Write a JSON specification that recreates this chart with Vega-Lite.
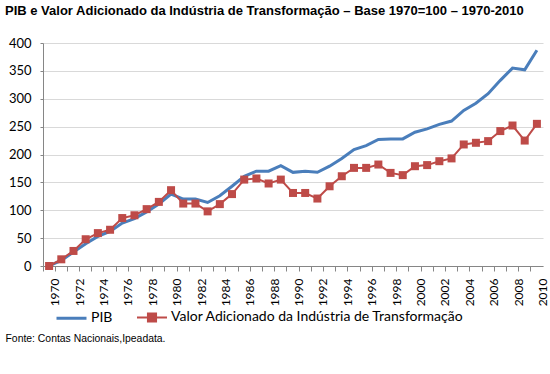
{
  "$schema": "https://vega.github.io/schema/vega-lite/v6.json",
  "width": 500,
  "height": 223,
  "autosize": "none",
  "padding": {"left": 43, "top": 43, "right": 7, "bottom": 108},
  "background": "white",
  "title": {
    "text": "PIB e Valor Adicionado da Indústria de Transformação – Base 1970=100 – 1970-2010",
    "anchor": "start",
    "frame": "group",
    "dx": -38,
    "offset": 19,
    "font": "Liberation Sans",
    "fontSize": 13,
    "fontWeight": "bold",
    "color": "#000000"
  },
  "data": {
    "values": [
      {"year": 1970, "s": "PIB", "v": 0},
      {"year": 1971, "s": "PIB", "v": 10},
      {"year": 1972, "s": "PIB", "v": 25},
      {"year": 1973, "s": "PIB", "v": 40},
      {"year": 1974, "s": "PIB", "v": 53},
      {"year": 1975, "s": "PIB", "v": 62},
      {"year": 1976, "s": "PIB", "v": 77},
      {"year": 1977, "s": "PIB", "v": 85},
      {"year": 1978, "s": "PIB", "v": 97},
      {"year": 1979, "s": "PIB", "v": 111},
      {"year": 1980, "s": "PIB", "v": 129},
      {"year": 1981, "s": "PIB", "v": 120},
      {"year": 1982, "s": "PIB", "v": 120},
      {"year": 1983, "s": "PIB", "v": 114},
      {"year": 1984, "s": "PIB", "v": 126},
      {"year": 1985, "s": "PIB", "v": 143},
      {"year": 1986, "s": "PIB", "v": 161},
      {"year": 1987, "s": "PIB", "v": 170},
      {"year": 1988, "s": "PIB", "v": 170},
      {"year": 1989, "s": "PIB", "v": 180},
      {"year": 1990, "s": "PIB", "v": 168},
      {"year": 1991, "s": "PIB", "v": 170},
      {"year": 1992, "s": "PIB", "v": 168},
      {"year": 1993, "s": "PIB", "v": 179},
      {"year": 1994, "s": "PIB", "v": 193},
      {"year": 1995, "s": "PIB", "v": 209},
      {"year": 1996, "s": "PIB", "v": 216},
      {"year": 1997, "s": "PIB", "v": 227},
      {"year": 1998, "s": "PIB", "v": 228},
      {"year": 1999, "s": "PIB", "v": 228},
      {"year": 2000, "s": "PIB", "v": 240},
      {"year": 2001, "s": "PIB", "v": 246},
      {"year": 2002, "s": "PIB", "v": 254},
      {"year": 2003, "s": "PIB", "v": 260},
      {"year": 2004, "s": "PIB", "v": 279},
      {"year": 2005, "s": "PIB", "v": 292},
      {"year": 2006, "s": "PIB", "v": 309},
      {"year": 2007, "s": "PIB", "v": 333},
      {"year": 2008, "s": "PIB", "v": 355},
      {"year": 2009, "s": "PIB", "v": 352},
      {"year": 2010, "s": "PIB", "v": 387},
      {"year": 1970, "s": "Valor Adicionado da Indústria de Transformação", "v": 0},
      {"year": 1971, "s": "Valor Adicionado da Indústria de Transformação", "v": 12},
      {"year": 1972, "s": "Valor Adicionado da Indústria de Transformação", "v": 27},
      {"year": 1973, "s": "Valor Adicionado da Indústria de Transformação", "v": 48},
      {"year": 1974, "s": "Valor Adicionado da Indústria de Transformação", "v": 59},
      {"year": 1975, "s": "Valor Adicionado da Indústria de Transformação", "v": 65},
      {"year": 1976, "s": "Valor Adicionado da Indústria de Transformação", "v": 86},
      {"year": 1977, "s": "Valor Adicionado da Indústria de Transformação", "v": 91},
      {"year": 1978, "s": "Valor Adicionado da Indústria de Transformação", "v": 102},
      {"year": 1979, "s": "Valor Adicionado da Indústria de Transformação", "v": 115},
      {"year": 1980, "s": "Valor Adicionado da Indústria de Transformação", "v": 136},
      {"year": 1981, "s": "Valor Adicionado da Indústria de Transformação", "v": 112},
      {"year": 1982, "s": "Valor Adicionado da Indústria de Transformação", "v": 112},
      {"year": 1983, "s": "Valor Adicionado da Indústria de Transformação", "v": 98},
      {"year": 1984, "s": "Valor Adicionado da Indústria de Transformação", "v": 111},
      {"year": 1985, "s": "Valor Adicionado da Indústria de Transformação", "v": 129},
      {"year": 1986, "s": "Valor Adicionado da Indústria de Transformação", "v": 155},
      {"year": 1987, "s": "Valor Adicionado da Indústria de Transformação", "v": 157},
      {"year": 1988, "s": "Valor Adicionado da Indústria de Transformação", "v": 148},
      {"year": 1989, "s": "Valor Adicionado da Indústria de Transformação", "v": 155},
      {"year": 1990, "s": "Valor Adicionado da Indústria de Transformação", "v": 131},
      {"year": 1991, "s": "Valor Adicionado da Indústria de Transformação", "v": 131},
      {"year": 1992, "s": "Valor Adicionado da Indústria de Transformação", "v": 121},
      {"year": 1993, "s": "Valor Adicionado da Indústria de Transformação", "v": 143},
      {"year": 1994, "s": "Valor Adicionado da Indústria de Transformação", "v": 161},
      {"year": 1995, "s": "Valor Adicionado da Indústria de Transformação", "v": 176},
      {"year": 1996, "s": "Valor Adicionado da Indústria de Transformação", "v": 176},
      {"year": 1997, "s": "Valor Adicionado da Indústria de Transformação", "v": 182},
      {"year": 1998, "s": "Valor Adicionado da Indústria de Transformação", "v": 167},
      {"year": 1999, "s": "Valor Adicionado da Indústria de Transformação", "v": 163},
      {"year": 2000, "s": "Valor Adicionado da Indústria de Transformação", "v": 179},
      {"year": 2001, "s": "Valor Adicionado da Indústria de Transformação", "v": 181},
      {"year": 2002, "s": "Valor Adicionado da Indústria de Transformação", "v": 188},
      {"year": 2003, "s": "Valor Adicionado da Indústria de Transformação", "v": 193},
      {"year": 2004, "s": "Valor Adicionado da Indústria de Transformação", "v": 218},
      {"year": 2005, "s": "Valor Adicionado da Indústria de Transformação", "v": 221},
      {"year": 2006, "s": "Valor Adicionado da Indústria de Transformação", "v": 224},
      {"year": 2007, "s": "Valor Adicionado da Indústria de Transformação", "v": 242},
      {"year": 2008, "s": "Valor Adicionado da Indústria de Transformação", "v": 252},
      {"year": 2009, "s": "Valor Adicionado da Indústria de Transformação", "v": 225},
      {"year": 2010, "s": "Valor Adicionado da Indústria de Transformação", "v": 255}
    ]
  },
  "encoding": {
    "x": {
      "field": "year",
      "type": "ordinal",
      "bandPosition": 0.5,
      "scale": {"type": "band", "paddingInner": 0, "paddingOuter": 0},
      "axis": {
        "bandPosition": 0,
        "labelOffset": 6.1,
        "labelAngle": -90,
        "labelAlign": "right",
        "labelBaseline": "middle",
        "labelOverlap": false,
        "labelExpr": "datum.value % 2 == 0 ? datum.label : ''",
        "labelFont": "Lato",
        "labelFontSize": 12,
        "labelColor": "#000000",
        "labelPadding": 7,
        "tickSize": 5,
        "tickColor": "#868686",
        "domainColor": "#868686",
        "grid": false,
        "title": "Fonte: Contas Nacionais,Ipeadata.",
        "titleX": -38,
        "titleY": 75,
        "titleAlign": "left",
        "titleAnchor": "start",
        "titleBaseline": "alphabetic",
        "titleFont": "Liberation Sans",
        "titleFontSize": 10.4,
        "titleFontWeight": "normal",
        "titleColor": "#000000"
      }
    },
    "y": {
      "field": "v",
      "type": "quantitative",
      "scale": {"domain": [0, 400], "nice": false},
      "axis": {
        "values": [0, 50, 100, 150, 200, 250, 300, 350, 400],
        "title": null,
        "tickSize": 3,
        "labelPadding": 9,
        "labelFont": "Lato",
        "labelFontSize": 13,
        "labelColor": "#000000",
        "tickColor": "#868686",
        "domainColor": "#868686",
        "gridColor": "#D9D9D9",
        "gridWidth": 1
      }
    }
  },
  "layer": [
    {
      "mark": {"type": "line"},
      "encoding": {
        "color": {
          "field": "s",
          "type": "nominal",
          "scale": {
            "domain": ["PIB", "Valor Adicionado da Indústria de Transformação"],
            "range": ["#4A7EBB", "#BE4B48"]
          },
          "legend": {
            "orient": "none",
            "legendX": 12,
            "legendY": 258,
            "direction": "horizontal",
            "title": null,
            "labelFont": "Lato",
            "labelFontSize": 14,
            "labelColor": "#000000",
            "labelLimit": 0,
            "labelOffset": 3,
            "columnPadding": 20,
            "symbolSize": 900,
            "symbolStrokeWidth": 2.5,
            "encode": {
              "symbols": {
                "update": {
                  "shape": {"signal": "datum.value == 'PIB' ? 'M-1,0L1,0' : 'M-1,0L1,0M-0.27,-0.27L0.27,-0.27L0.27,0.27L-0.27,0.27Z'"},
                  "fill": {"signal": "datum.value == 'PIB' ? 'transparent' : '#BE4B48'"}
                }
              }
            }
          }
        },
        "strokeWidth": {
          "field": "s",
          "type": "nominal",
          "scale": {
            "domain": ["PIB", "Valor Adicionado da Indústria de Transformação"],
            "range": [3, 2]
          },
          "legend": null
        }
      }
    },
    {
      "transform": [{"filter": "datum.s != 'PIB'"}],
      "mark": {"type": "square", "size": 64, "filled": true, "opacity": 1, "color": "#BE4B48"},
      "encoding": {}
    }
  ],
  "config": {"view": {"stroke": null}}
}
